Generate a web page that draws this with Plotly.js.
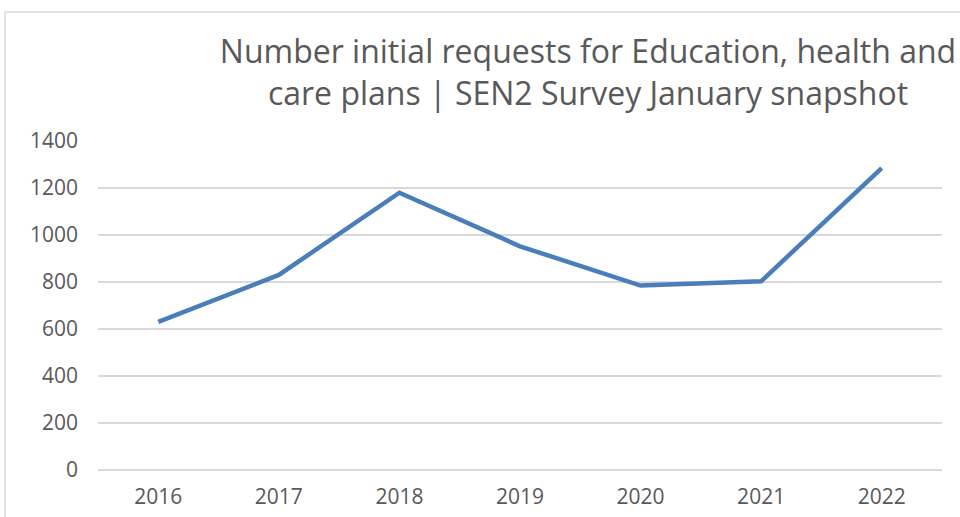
<!DOCTYPE html>
<html>
<head>
<meta charset="utf-8">
<script src="https://cdn.plot.ly/plotly-3.0.1.min.js"></script>
<style>
html,body{margin:0;padding:0;background:#fff;}
#chart{width:960px;height:517px;}
</style>
</head>
<body>
<div id="chart"></div>
<script>
var years = ["2016","2017","2018","2019","2020","2021","2022"];
var requests = [630, 830, 1180, 952, 785, 803, 1285];
var yTicks = [0, 200, 400, 600, 800, 1000, 1200, 1400];

var W = 960, H = 517, L = 98, R = 18, T = 141, B = 47;
var pw = W - L - R, ph = H - T - B;
function px(x){ return (x - L) / pw; }
function py(y){ return (H - B - y) / ph; }

var trace = {
  x: years,
  y: requests,
  type: 'scatter',
  mode: 'lines',
  line: {color: '#4a7ebb', width: 4.5},
  hoverinfo: 'x+y'
};

var layout = {
  width: W, height: H,
  margin: {l: L, r: R, t: T, b: B},
  paper_bgcolor: '#ffffff',
  plot_bgcolor: '#ffffff',
  showlegend: false,
  font: {family: 'Open Sans, sans-serif', color: '#595959'},
  title: {
    text: 'Number initial requests for Education, health and<br>care plans | SEN2 Survey January snapshot',
    font: {family: 'Open Sans, sans-serif', size: 32, color: '#595959'},
    x: 588 / W, xref: 'container', xanchor: 'center',
    y: 1 - 63 / H, yref: 'container', yanchor: 'top'
  },
  xaxis: {
    type: 'category',
    range: [-0.5, 6.5],
    showgrid: false,
    showline: false,
    zeroline: false,
    ticks: '',
    ticklabelstandoff: 12,
    tickfont: {size: 21, color: '#595959'},
    fixedrange: true
  },
  yaxis: {
    range: [0, 1400],
    tickvals: yTicks,
    ticktext: yTicks.map(String),
    showgrid: true,
    gridcolor: '#d9d9d9',
    gridwidth: 1.5,
    zeroline: true,
    zerolinecolor: '#d9d9d9',
    zerolinewidth: 1.5,
    showline: false,
    ticks: '',
    ticklabelstandoff: 19,
    tickfont: {size: 21, color: '#595959'},
    fixedrange: true
  },
  shapes: [
    {type: 'line', xref: 'paper', yref: 'paper', x0: px(5), x1: px(5), y0: py(12), y1: py(530),
     line: {color: '#d9d9d9', width: 1.5}},
    {type: 'line', xref: 'paper', yref: 'paper', x0: px(5), x1: px(980), y0: py(12), y1: py(12),
     line: {color: '#d9d9d9', width: 1.5}}
  ]
};

Plotly.newPlot('chart', [trace], layout, {displayModeBar: false});
</script>
</body>
</html>
